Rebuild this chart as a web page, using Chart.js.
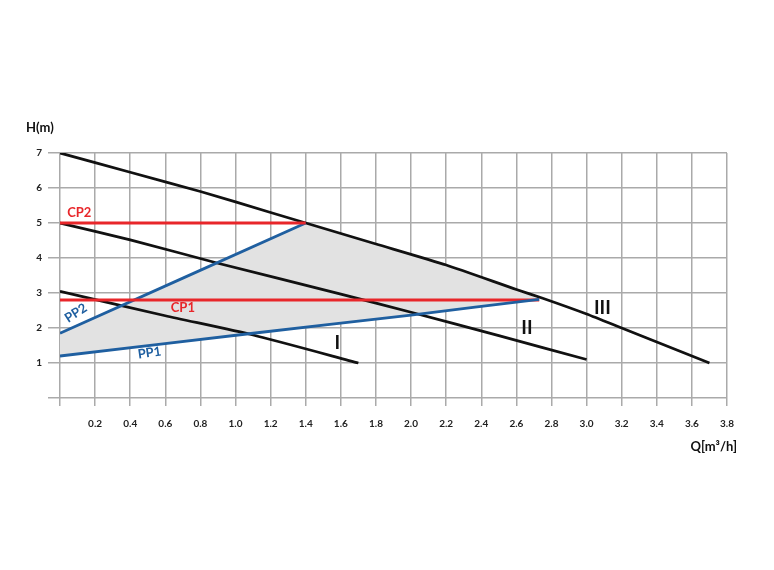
<!DOCTYPE html>
<html>
<head>
<meta charset="utf-8">
<script src="https://cdn.jsdelivr.net/npm/chart.js@4"></script>
<style>
  html, body { margin: 0; padding: 0; background: #fff; }
  #wrap { width: 774px; height: 570px; }
</style>
</head>
<body>
<div id="wrap"><canvas id="pumpChart"></canvas></div>
<script>
/* ---------- DATA ---------- */
const xTicks = [0, 0.2, 0.4, 0.6, 0.8, 1.0, 1.2, 1.4, 1.6, 1.8, 2.0, 2.2, 2.4, 2.6, 2.8, 3.0, 3.2, 3.4, 3.6, 3.8];
const yTicks = [0, 1, 2, 3, 4, 5, 6, 7];

const curveIII = [[0, 7], [0.4, 6.45], [0.8, 5.9], [1.2, 5.3], [1.4, 5.0], [1.8, 4.4], [2.2, 3.8], [2.6, 3.1], [2.75, 2.85], [3.0, 2.4], [3.2, 2.0], [3.4, 1.6], [3.7, 1.0]];
const curveII = [[0, 5], [0.4, 4.52], [0.9, 3.85], [1.6, 2.97], [2.0, 2.45], [2.5, 1.78], [3.0, 1.1]];
const curveI = [[0, 3.05], [0.6, 2.35], [1.1, 1.8], [1.7, 1.0]];
const cp2 = [[0, 5], [1.4, 5]];
const cp1 = [[0, 2.8], [2.73, 2.8]];
const pp2 = [[0, 1.85], [1.4, 5]];
const pp1 = [[0, 1.2], [1.1, 1.85], [2.0, 2.37], [2.73, 2.82]];
const zoneTop = [[0, 1.85], [1.4, 5], [1.8, 4.4], [2.2, 3.8], [2.6, 3.1], [2.73, 2.82]];

const labels = [
  { text: "CP2", x: 0.11, y: 5.29, color: "#e8262a", rot: 0 },
  { text: "CP1", x: 0.70, y: 2.57, color: "#e8262a", rot: 0 },
  { text: "PP2", x: 0.09, y: 2.43, color: "#1f5fa0", rot: -33 },
  { text: "PP1", x: 0.51, y: 1.29, color: "#1f5fa0", rot: -8 },
  { text: "I", x: 1.58, y: 1.57, color: "#111", rot: 0, big: true },
  { text: "II", x: 2.66, y: 2.0, color: "#111", rot: 0, big: true },
  { text: "III", x: 3.09, y: 2.57, color: "#111", rot: 0, big: true }
];

const pts = arr => arr.map(p => ({ x: p[0], y: p[1] }));

/* ---------- TEXT PLUGIN ---------- */
const textPlugin = {
  id: "curveText",
  afterDatasetsDraw(chart) {
    const ctx = chart.ctx;
    const xs = chart.scales.x, ys = chart.scales.y;
    ctx.save();
    ctx.textAlign = "center";
    ctx.textBaseline = "middle";
    labels.forEach(l => {
      ctx.save();
      ctx.translate(xs.getPixelForValue(l.x), ys.getPixelForValue(l.y));
      ctx.rotate(l.rot * Math.PI / 180);
      ctx.fillStyle = l.color;
      ctx.font = l.big ? "bold 19px Lato" : "bold 13px Lato";
      ctx.fillText(l.text, 0, 0);
      ctx.restore();
    });
    ctx.fillStyle = "#111";
    ctx.font = "bold 13px Lato";
    ctx.textAlign = "left";
    ctx.fillText("H(m)", 26, 128);
    ctx.textAlign = "right";
    ctx.fillText("Q[m³/h]", 737, 447);
    ctx.restore();
  }
};

function line(data, color) {
  return { data: pts(data), borderColor: color, borderWidth: 2.8, pointRadius: 0, fill: false, tension: 0.2, order: 1 };
}

/* ---------- CHART ---------- */
document.addEventListener("DOMContentLoaded", function () {
  const ctx = document.getElementById("pumpChart").getContext("2d");

  new Chart(ctx, {
    type: "line",
    data: {
      datasets: [
        line(pp1, "#1f5fa0"),
        { data: pts(zoneTop), borderWidth: 0, pointRadius: 0, fill: 0, backgroundColor: "#e2e2e2", tension: 0, order: 10 },
        line(cp2, "#e8262a"),
        line(cp1, "#e8262a"),
        line(pp2, "#1f5fa0"),
        line(curveIII, "#111"),
        line(curveII, "#111"),
        line(curveI, "#111")
      ]
    },
    options: {
      responsive: true,
      maintainAspectRatio: false,
      animation: false,
      layout: { padding: { left: 20, right: 47, top: 153, bottom: 130 } },
      plugins: { legend: { display: false }, tooltip: { enabled: false }, filler: { drawTime: "beforeDatasetsDraw" } },
      scales: {
        x: {
          type: "linear", min: 0, max: 3.8,
          afterBuildTicks: s => { s.ticks = xTicks.map(v => ({ value: v })); },
          afterFit: s => { s.height = 42; },
          grid: { color: "#aaa", lineWidth: 1.5, tickLength: 8 },
          border: { display: false },
          ticks: {
            color: "#222", font: { family: "Lato", weight: "bold", size: 10 }, padding: 12, maxRotation: 0,
            callback: v => v === 0 ? "" : v.toFixed(1)
          }
        },
        y: {
          type: "linear", min: 0, max: 7,
          afterBuildTicks: s => { s.ticks = yTicks.map(v => ({ value: v })); },
          afterFit: s => { s.width = 40; },
          grid: { color: "#aaa", lineWidth: 1.5, tickLength: 12 },
          border: { display: false },
          ticks: {
            color: "#222", font: { family: "Lato", weight: "bold", size: 10 }, padding: 6,
            callback: v => v === 0 ? "" : v
          }
        }
      }
    },
    plugins: [textPlugin]
  });
});
</script>
</body>
</html>
